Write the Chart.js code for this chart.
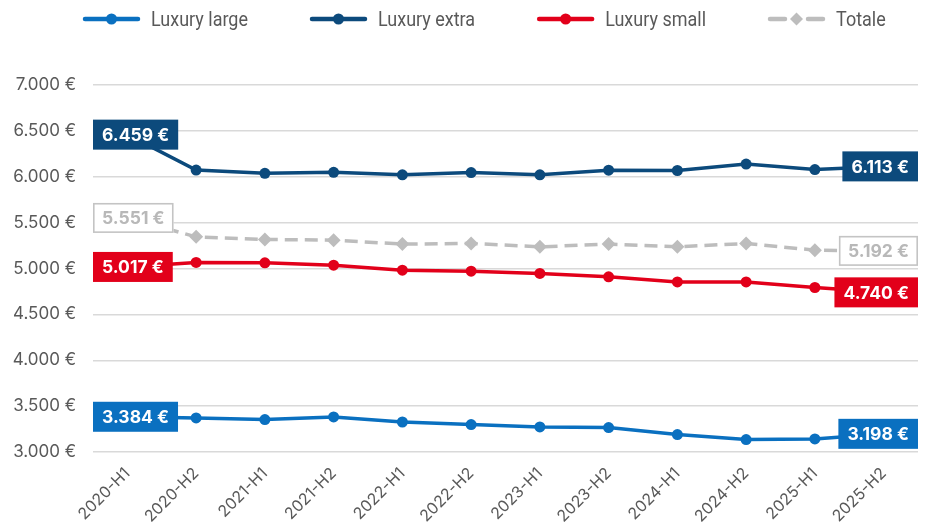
<!DOCTYPE html>
<html><head><meta charset="utf-8">
<script src="https://cdn.jsdelivr.net/npm/chart.js@4.4.1/dist/chart.umd.min.js"></script>
<style>html,body{margin:0;padding:0;background:#fff}#wrap{width:925px;height:522px}</style>
</head><body><div id="wrap"><canvas id="c" width="925" height="522"></canvas></div>
<script>
const categories = ['2020-H1','2020-H2','2021-H1','2021-H2','2022-H1','2022-H2','2023-H1','2023-H2','2024-H1','2024-H2','2025-H1','2025-H2'];
const luxuryLarge = [3384, 3371, 3353, 3382, 3327, 3299, 3273, 3266, 3190, 3135, 3142, 3198];
const luxuryExtra = [6459, 6073, 6037, 6048, 6021, 6046, 6021, 6072, 6068, 6138, 6078, 6113];
const luxurySmall = [5017, 5066, 5062, 5036, 4982, 4971, 4946, 4909, 4854, 4854, 4793, 4740];
const totale      = [5551, 5345, 5317, 5309, 5266, 5273, 5236, 5266, 5236, 5273, 5200, 5192];
const seriesNames = ['Luxury large', 'Luxury extra', 'Luxury small', 'Totale'];
const yMin = 3000, yMax = 7000, yStep = 500;

const C_LARGE = '#0a70c0', C_EXTRA = '#0c4a7c', C_SMALL = '#e2001a', C_TOT = '#bdbdbd';
const TXT = '#595959';

function fmt(v){ return String(Math.round(v)).replace(/\B(?=(\d{3})+(?!\d))/g, '.') + ' €'; }

const legendPlugin = {
  id: 'customLegend',
  afterDraw(chart){
    const ctx = chart.ctx;
    ctx.save();
    ctx.font = '21px Roboto';
    const sx = 97 / ctx.measureText('Luxury large').width;
    let x = 83; const y = 19; const iw = 57;
    chart.data.datasets.forEach(ds => {
      const c = ds.borderColor;
      ctx.save();
      ctx.strokeStyle = c; ctx.fillStyle = c; ctx.lineWidth = 4.5; ctx.lineCap = 'round';
      if (ds.borderDash && ds.borderDash.length){
        ctx.beginPath(); ctx.moveTo(x+2, y); ctx.lineTo(x+17, y); ctx.stroke();
        ctx.beginPath(); ctx.moveTo(x+40, y); ctx.lineTo(x+iw-2, y); ctx.stroke();
        ctx.beginPath(); const cx = x+iw/2, r = 6.5;
        ctx.moveTo(cx, y-r); ctx.lineTo(cx+r, y); ctx.lineTo(cx, y+r); ctx.lineTo(cx-r, y); ctx.closePath(); ctx.fill();
      } else {
        ctx.beginPath(); ctx.moveTo(x+2, y); ctx.lineTo(x+iw-2, y); ctx.stroke();
        ctx.beginPath(); ctx.arc(x+iw/2, y, 5.5, 0, Math.PI*2); ctx.fill();
      }
      ctx.restore();
      x += iw + 11;
      const w = ctx.measureText(ds.label).width * sx;
      ctx.save(); ctx.translate(x, y); ctx.scale(sx, 1);
      ctx.fillStyle = TXT; ctx.textBaseline = 'middle'; ctx.textAlign = 'left';
      ctx.fillText(ds.label, 0, 1.5);
      ctx.restore();
      x += w + 62;
    });
    ctx.restore();
  }
};

const endLabelPlugin = {
  id: 'endLabels',
  afterDatasetsDraw(chart){
    const ctx = chart.ctx, area = chart.chartArea;
    ctx.save();
    ctx.font = 'bold 17.5px Inter';
    chart.data.datasets.forEach((ds, di) => {
      const meta = chart.getDatasetMeta(di);
      [0, ds.data.length - 1].forEach(i => {
        const pt = meta.data[i];
        const text = fmt(ds.data[i]);
        const w = ctx.measureText(text).width + 18, h = 30;
        let bx = pt.x - w/2;
        bx = Math.max(area.left, Math.min(bx, area.right - w));
        const by = pt.y - h/2;
        if (ds.outlineLabel){
          ctx.fillStyle = '#ffffff'; ctx.fillRect(bx, by, w, h);
          ctx.strokeStyle = '#c4c4c4'; ctx.lineWidth = 1.6; ctx.strokeRect(bx+0.8, by+0.8, w-1.6, h-1.6);
          ctx.fillStyle = '#b8b8b8';
        } else {
          ctx.fillStyle = ds.borderColor; ctx.fillRect(bx, by, w, h);
          ctx.fillStyle = '#ffffff';
        }
        ctx.textAlign = 'center'; ctx.textBaseline = 'middle';
        ctx.fillText(text, bx + w/2, by + h/2 + 1);
      });
    });
    ctx.restore();
  }
};

function lineDs(label, data, color, extra){
  return Object.assign({
    label, data, borderColor: color, backgroundColor: color,
    borderWidth: 3.5, pointRadius: 5.5, pointHoverRadius: 5.5,
    pointBackgroundColor: color, pointBorderColor: color, pointBorderWidth: 0,
    tension: 0, fill: false
  }, extra || {});
}

new Chart(document.getElementById('c'), {
  type: 'line',
  data: {
    labels: categories,
    datasets: [
      lineDs(seriesNames[0], luxuryLarge, C_LARGE),
      lineDs(seriesNames[1], luxuryExtra, C_EXTRA),
      lineDs(seriesNames[2], luxurySmall, C_SMALL),
      lineDs(seriesNames[3], totale, C_TOT, {borderDash: [13, 7], pointStyle: 'rectRot', pointRadius: 7, outlineLabel: true})
    ]
  },
  options: {
    responsive: false, animation: false, devicePixelRatio: 1,
    layout: { padding: { top: 85, right: 1, left: 0, bottom: 0 } },
    plugins: { legend: { display: false }, tooltip: { enabled: false } },
    scales: {
      x: {
        offset: true,
        grid: { display: false, drawTicks: false },
        border: { display: false },
        ticks: { maxRotation: 45, minRotation: 45, autoSkip: false, color: TXT, font: { family: 'Inter', size: 16 }, padding: 12 },
        afterFit(s){ s.height = 70; }
      },
      y: {
        min: yMin, max: yMax,
        ticks: { stepSize: yStep, callback: v => fmt(v), color: TXT, font: { family: 'Inter', size: 17 }, padding: 17 },
        grid: { color: '#d9d9d9', lineWidth: 1.5, drawTicks: false },
        border: { display: false },
        afterFit(s){ s.width = 93; }
      }
    }
  },
  plugins: [legendPlugin, endLabelPlugin]
});
</script>
</body></html>
